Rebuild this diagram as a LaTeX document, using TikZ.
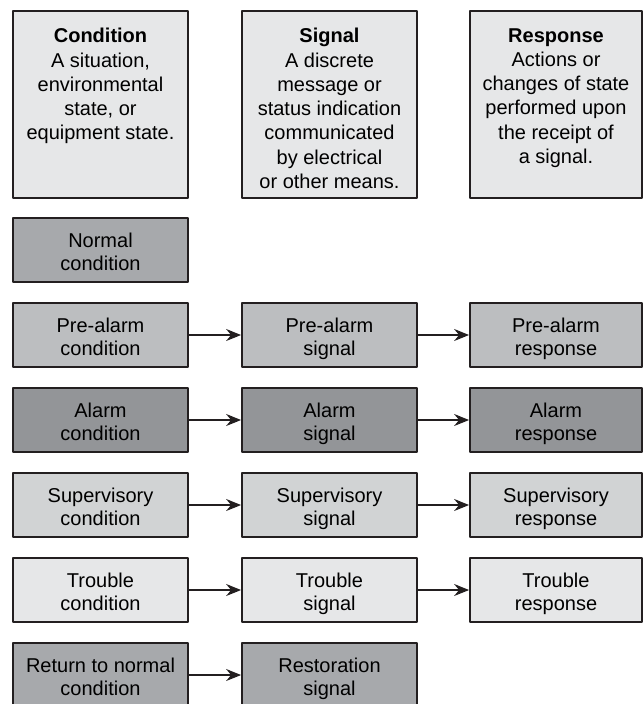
\documentclass[tikz,border=0pt]{standalone}
\usepackage{fontspec}
\setmainfont{Liberation Sans}
\usetikzlibrary{arrows.meta,positioning}

\definecolor{boxline}{HTML}{231F20}
\definecolor{grayA}{HTML}{E6E7E8}
\definecolor{grayB}{HTML}{D1D3D4}
\definecolor{grayC}{HTML}{BCBEC0}
\definecolor{grayD}{HTML}{A7A9AC}
\definecolor{grayE}{HTML}{939598}

\begin{document}
\begin{tikzpicture}[
				x=1pt,
				y=-1pt,
				line join=round,
				box/.style={draw=boxline, line width=1.8pt, minimum width=175pt,
					minimum height=64pt, inner sep=0pt, align=center,
					text height=40pt, text depth=0pt,
					font=\fontsize{20}{22.5}\selectfont},
				rbox/.style={box, minimum width=172pt},
				headbox/.style={draw=boxline, line width=1.8pt, minimum width=175pt,
					minimum height=187pt, inner sep=0pt, fill=grayA},
				headtext/.style={anchor=north, inner sep=0pt, align=center,
					font=\fontsize{20}{24.3}\selectfont},
				flow/.style={draw=boxline, line width=1.3pt,
					-{Stealth[length=15pt,width=12pt,inset=5pt]}}
			]

			\useasboundingbox (0,0) rectangle (643,704);

			% Headings
			\node[headbox] (cond) at (100.5,104.5) {};
			\node[headbox] (sig) at (329.5,104.5) {};
			\node[headbox, minimum width=172pt] (resp) at (556,104.5) {};
			\node[headtext] (condtext) at ([yshift=-18pt]cond.north)
				{\textbf{Condition}\\A situation,\\environmental\\state, or\\equipment state.};
			\node[headtext] (sigtext) at ([yshift=-18pt]sig.north)
				{\textbf{Signal}\\A discrete\\message or\\status indication\\communicated\\by electrical\\or other means.};
			\node[headtext] (resptext) at ([yshift=-18pt]resp.north)
				{\textbf{Response}\\Actions or\\changes of state\\performed upon\\the receipt of\\a signal.};

			% Normal
			\node[box, fill=grayD] (normcond) at (100.5,250) {Normal\\condition};

			% Pre-alarm
			\node[box, fill=grayC] (precond) at (100.5,335) {Pre-alarm\\condition};
			\node[box, fill=grayC] (presig) at (329.5,335) {Pre-alarm\\signal};
			\node[rbox, fill=grayC] (preresp) at (556,335) {Pre-alarm\\response};

			% Alarm
			\node[box, fill=grayE] (alcond) at (100.5,420) {Alarm\\condition};
			\node[box, fill=grayE] (alsig) at (329.5,420) {Alarm\\signal};
			\node[rbox, fill=grayE] (alresp) at (556,420) {Alarm\\response};

			% Supervisory
			\node[box, fill=grayB] (supcond) at (100.5,505) {Supervisory\\condition};
			\node[box, fill=grayB] (supsig) at (329.5,505) {Supervisory\\signal};
			\node[rbox, fill=grayB] (supresp) at (556,505) {Supervisory\\response};

			% Trouble
			\node[box, fill=grayA] (trcond) at (100.5,590) {Trouble\\condition};
			\node[box, fill=grayA] (trsig) at (329.5,590) {Trouble\\signal};
			\node[rbox, fill=grayA] (trresp) at (556,590) {Trouble\\response};

			% Return to normal
			\node[box, fill=grayD] (retcond) at (100.5,675) {Return to normal\\condition};
			\node[box, fill=grayD] (ressig) at (329.5,675) {Restoration\\signal};

			% Arrows
			\draw[flow] (precond) -- (presig);
			\draw[flow] (presig) -- (preresp);
			\draw[flow] (alcond) -- (alsig);
			\draw[flow] (alsig) -- (alresp);
			\draw[flow] (supcond) -- (supsig);
			\draw[flow] (supsig) -- (supresp);
			\draw[flow] (trcond) -- (trsig);
			\draw[flow] (trsig) -- (trresp);
			\draw[flow] (retcond) -- (ressig);

		\end{tikzpicture}
\end{document}
